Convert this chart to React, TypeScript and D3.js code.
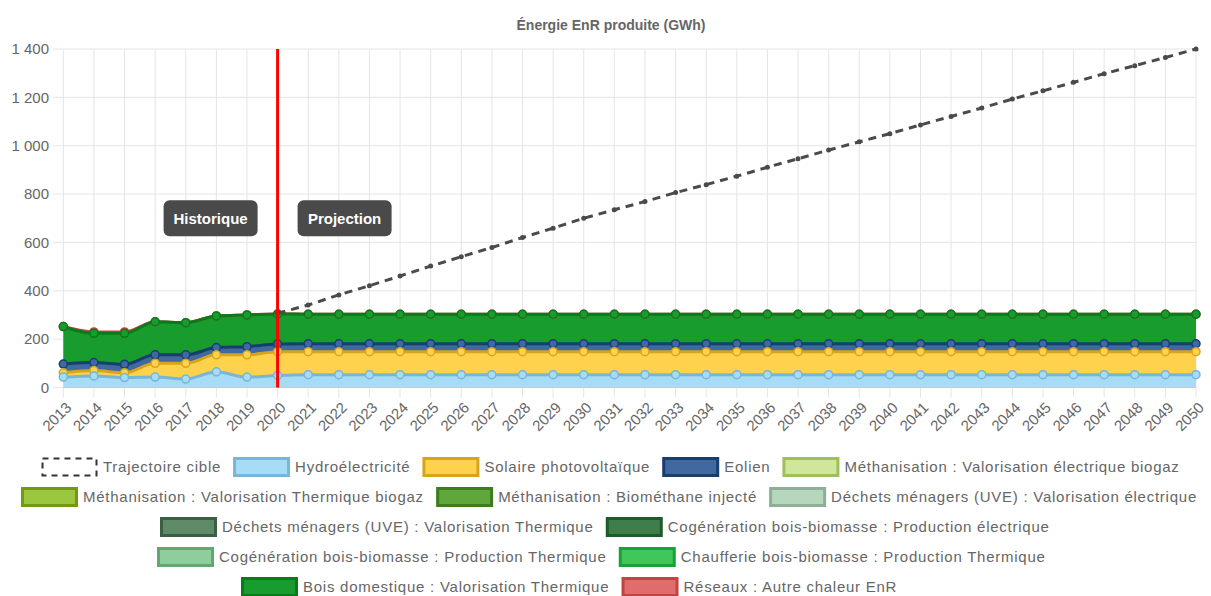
import React, { useMemo } from 'react';
import * as d3 from 'd3';

const years = ['2013','2014','2015','2016','2017','2018','2019','2020','2021','2022','2023','2024','2025','2026','2027','2028','2029','2030','2031','2032','2033','2034','2035','2036','2037','2038','2039','2040','2041','2042','2043','2044','2045','2046','2047','2048','2049','2050'];

const yTicks = [0, 200, 400, 600, 800, 1000, 1200, 1400];

const trajectoire: (number | null)[] = [null,null,null,null,null,null,null,307,341,383,421,461,502,541,579,620,659,700,735,769,806,839,874,911,946,982,1016,1050,1086,1121,1156,1193,1227,1262,1298,1331,1365,1400];
const hydro = [43,48,41,43,35,65,43,50,53,53,53,53,53,53,53,53,53,53,53,53,53,53,53,53,53,53,53,53,53,53,53,53,53,53,53,53,53,53];
const solaire = [18,22,20,57,65,70,92,98,95,95,95,95,95,95,95,95,95,95,95,95,95,95,95,95,95,95,95,95,95,95,95,95,95,95,95,95,95,95];
const eolien = [36,33,35,35,35,30,34,32,33,33,33,33,33,33,33,33,33,33,33,33,33,33,33,33,33,33,33,33,33,33,33,33,33,33,33,33,33,33];
const methElec: number[] = [];
const methTherm: number[] = [];
const biomethane: number[] = [];
const dechetsElec: number[] = [];
const dechetsTherm: number[] = [];
const cogeElec: number[] = [];
const cogeTherm: number[] = [];
const chaufferie: number[] = [];
const boisDomestique = [155,121,128,137,133,131,131,124,122,122,122,122,122,122,122,122,122,122,122,122,122,122,122,122,122,122,122,122,122,122,122,122,122,122,122,122,122,122];
const reseaux = [0,6,6,0,0,0,0,0,0,0,0,0,0,0,0,0,0,0,0,0,0,0,0,0,0,0,0,0,0,0,0,0,0,0,0,0,0,0];

const seriesNames = [
  'Hydroélectricité',
  'Solaire photovoltaïque',
  'Eolien',
  'Méthanisation : Valorisation électrique biogaz',
  'Méthanisation : Valorisation Thermique biogaz',
  'Méthanisation : Biométhane injecté',
  'Déchets ménagers (UVE) : Valorisation électrique',
  'Déchets ménagers (UVE) : Valorisation Thermique',
  'Cogénération bois-biomasse : Production électrique',
  'Cogénération bois-biomasse : Production Thermique',
  'Chaufferie bois-biomasse : Production Thermique',
  'Bois domestique : Valorisation Thermique',
  'Réseaux : Autre chaleur EnR',
];
const seriesData = [hydro, solaire, eolien, methElec, methTherm, biomethane, dechetsElec, dechetsTherm, cogeElec, cogeTherm, chaufferie, boisDomestique, reseaux];
const fills = ['#a6dcf5','#ffd24e','#3f69a0','#cfe69b','#9cc63e','#5fa73a','#b6d6be','#5f8b69','#3f7e4b','#8fce9c','#3fc75a','#179c2d','#e06c6c'];
const strokes = ['#79b5d4','#d6a51c','#163f6e','#9dbf5c','#6f9a12','#3a7d1c','#8daf95','#3b5f43','#1f5a2b','#5fa86f','#17a234','#0b7a1b','#c04444'];

const trajName = 'Trajectoire cible';

// legend layout: rows of item indexes (-1 = trajectoire)
const legendRows = [[-1, 0, 1, 2, 3], [4, 5, 6], [7, 8], [9, 10], [11, 12]];
const legendRowStart = [41, 21, 160, 157, 241];

const W = 1211, H = 596;
const X0 = 63.3, X1 = 1196, YTOP = 49, YBOT = 387.5;
const LEG_FONT = '15px "Liberation Sans", Arial, sans-serif';
const LEG_LS = 0.75;
const GREY = '#666666';

export default function App() {
  const x = d3.scalePoint<string>().domain(years).range([X0, X1]).padding(0);
  const y = d3.scaleLinear().domain([0, 1400]).range([YBOT, YTOP]);

  const table = years.map((yr, i) => {
    const row: Record<string, any> = { year: yr };
    seriesNames.forEach((n, k) => { row[n] = seriesData[k][i] ?? 0; });
    return row;
  });
  const stacked = d3.stack<any>().keys(seriesNames)(table);

  const area = d3.area<any>()
    .x((d) => x(d.data.year)!)
    .y0((d) => y(d[0]))
    .y1((d) => y(d[1]))
    .curve(d3.curveMonotoneX);
  const topLine = d3.line<any>()
    .x((d) => x(d.data.year)!)
    .y((d) => y(d[1]))
    .curve(d3.curveMonotoneX);

  const trajPts = years.map((yr, i) => ({ yr, v: trajectoire[i] })).filter((p) => p.v != null) as { yr: string; v: number }[];
  const trajLine = d3.line<{ yr: string; v: number }>().x((p) => x(p.yr)!).y((p) => y(p.v));

  const measure = useMemo(() => {
    const c = document.createElement('canvas').getContext('2d')!;
    c.font = LEG_FONT;
    return (s: string) => c.measureText(s).width + s.length * LEG_LS;
  }, []);

  const x2020 = x('2020')!;
  const yLabel = y(700);

  const drawOrder = seriesNames.map((_, k) => k).reverse();

  const legendItems: JSX.Element[] = [];
  legendRows.forEach((row, r) => {
    let cx = legendRowStart[r];
    const cy = 467 + r * 30;
    row.forEach((idx) => {
      const label = idx === -1 ? trajName : seriesNames[idx];
      const boxW = 54, boxH = 17;
      if (idx === -1) {
        legendItems.push(
          <rect key={'b' + r + idx} x={cx + 1.5} y={cy - boxH / 2} width={boxW} height={boxH} fill="#fff" stroke="#333" strokeWidth={2} strokeDasharray="6 5" />
        );
      } else {
        legendItems.push(
          <rect key={'b' + r + idx} x={cx + 1.5} y={cy - boxH / 2} width={boxW} height={boxH} fill={fills[idx]} stroke={strokes[idx]} strokeWidth={3} />
        );
      }
      legendItems.push(
        <text key={'t' + r + idx} x={cx + 62} y={cy} dy="0.35em" fill={GREY} style={{ font: LEG_FONT, letterSpacing: LEG_LS + 'px' }}>{label}</text>
      );
      cx += 62 + measure(label) + 12;
    });
  });

  return (
    <svg width={W} height={H} style={{ position: 'absolute', left: 0, top: 0, background: '#fff' }} fontFamily='"Liberation Sans", Arial, sans-serif'>
      <text x={611} y={30} textAnchor="middle" fill={GREY} fontSize={14} fontWeight="bold">Énergie EnR produite (GWh)</text>

      {/* grid */}
      {yTicks.map((t) => (
        <g key={'y' + t}>
          <line x1={X0 - 10} x2={X1} y1={y(t)} y2={y(t)} stroke="#e5e5e5" strokeWidth={1} />
          <text x={49} y={y(t)} dy="0.35em" textAnchor="end" fill={GREY} fontSize={15}>{d3.format(',')(t).replace(/,/g, ' ')}</text>
        </g>
      ))}
      {years.map((yr) => (
        <g key={'x' + yr}>
          <line x1={x(yr)!} x2={x(yr)!} y1={YTOP} y2={YBOT + 10} stroke="#e5e5e5" strokeWidth={1} />
          <text transform={`translate(${x(yr)! + 9},${YBOT + 21}) rotate(-45)`} textAnchor="end" fill={GREY} fontSize={15}>{yr}</text>
        </g>
      ))}

      {/* fills */}
      {drawOrder.map((k) =>
        seriesData[k].length ? <path key={'a' + k} d={area(stacked[k] as any)!} fill={fills[k]} stroke="none" /> : null
      )}
      <line x1={X0} x2={X1} y1={YBOT} y2={YBOT} stroke="#c9d49e" strokeWidth={1} />

      {/* lines and points */}
      {drawOrder.map((k) =>
        seriesData[k].length ? (
          <g key={'l' + k}>
            <path d={topLine(stacked[k] as any)!} fill="none" stroke={strokes[k]} strokeWidth={3} />
            {stacked[k].map((d: any, i: number) => (
              <circle key={i} cx={x(d.data.year)!} cy={y(d[1])} r={4} fill={fills[k]} stroke={strokes[k]} strokeWidth={1.5} />
            ))}
          </g>
        ) : null
      )}

      {/* trajectoire */}
      <path d={trajLine(trajPts)!} fill="none" stroke="#4a4a4a" strokeWidth={3} strokeDasharray="8 6" />
      {trajPts.map((p) => (
        <circle key={'tp' + p.yr} cx={x(p.yr)!} cy={y(p.v)} r={2.5} fill="#4a4a4a" />
      ))}

      {/* annotation */}
      <line x1={x2020} x2={x2020} y1={YTOP} y2={YBOT} stroke="#ff0000" strokeWidth={3} />
      <g>
        <rect x={x2020 - 67 - 47} y={yLabel - 18} width={94} height={36} rx={6} fill="#4a4a4a" />
        <text x={x2020 - 67} y={yLabel} dy="0.35em" textAnchor="middle" fill="#fff" fontSize={15} fontWeight="bold">Historique</text>
        <rect x={x2020 + 67 - 47} y={yLabel - 18} width={94} height={36} rx={6} fill="#4a4a4a" />
        <text x={x2020 + 67} y={yLabel} dy="0.35em" textAnchor="middle" fill="#fff" fontSize={15} fontWeight="bold">Projection</text>
      </g>

      {legendItems}
    </svg>
  );
}
